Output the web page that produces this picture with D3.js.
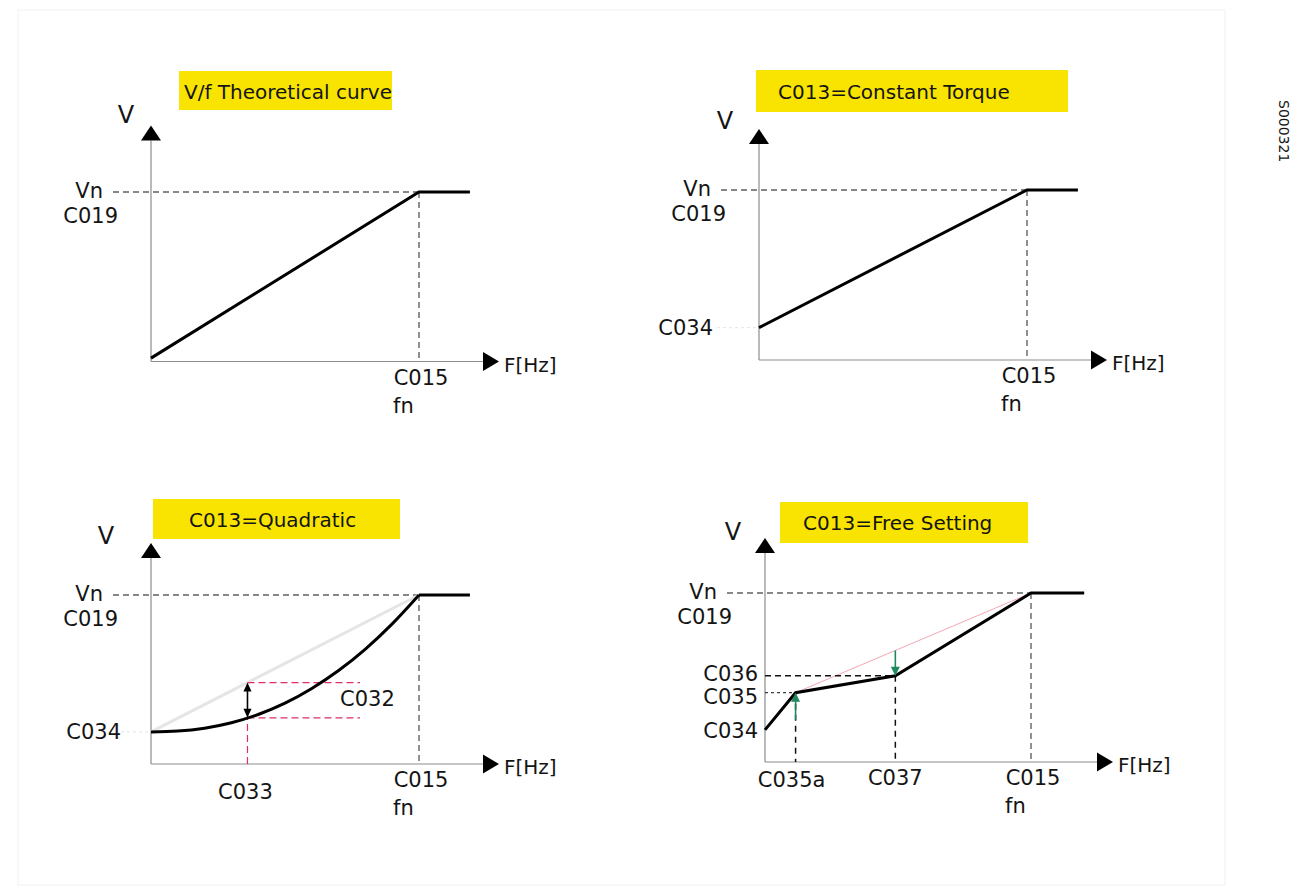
<!DOCTYPE html>
<html>
<head>
<meta charset="utf-8">
<script src="https://cdn.jsdelivr.net/npm/d3@7"></script>
<style>
  html, body { margin: 0; padding: 0; background: #ffffff; }
  svg { display: block; }
  text { font-family: "DejaVu Sans", sans-serif; fill: #141414; }
</style>
</head>
<body>
<svg id="chart" width="1305" height="890"></svg>
<script>
// ---------------- DATA (units: % of fn / % of Vn) ----------------
const titles = ["V/f Theoretical curve", "C013=Constant Torque", "C013=Quadratic", "C013=Free Setting"];

// Panel 1: theoretical V/f
const p1F = [0, 100, 119];
const p1V = [2, 100, 100];

// Panel 2: constant torque
const p2F = [0, 100, 119];
const p2V = [19, 100, 100];

// Panel 3: quadratic (curved part up to fn, then flat)
const p3F = [0, 10, 20, 30, 40, 50, 60, 70, 80, 90, 100];
const p3V = [19, 19.5, 21.2, 24.4, 29.3, 36, 44.7, 55.3, 68, 82.9, 100];
const p3FlatF = [100, 119];
const p3FlatV = [100, 100];
const p3RefF = [0, 100];
const p3RefV = [19, 100];
const p3C033 = 36;          // frequency of C033
const p3C032Top = 48.2;     // reference line value at C033
const p3C032Bottom = 27.3;  // curve value at C033
const p3C032End = 78;       // end of the red guide lines

// Panel 4: free setting
const p4F = [0, 11.5, 49, 100, 120];
const p4V = [19, 41, 51, 100, 100];
const p4RefF = [11.5, 100];
const p4RefV = [41, 100];
const p4UpArrow = { f: 11.5, from: 25, to: 41 };
const p4DownArrow = { f: 49, from: 66, to: 51 };

// Axis tick labels
const fnValue = 100, vnValue = 100;
const yLabelsTop = ["Vn", "C019"];
const xLabelsFn = ["C015", "fn"];
const p2YLabels = ["C034"];
const p3YLabels = ["C034"];
const p3XLabels = ["C033"];
const p3Diff = ["C032"];
const p4YLabels = ["C036", "C035", "C034"];
const p4YValues = [51, 41, 19];
const p4XLabels = ["C035a", "C037"];
const p4XValues = [11.5, 49];
const axisNames = ["V", "F[Hz]"];
const docCode = "S000321";

// ---------------- LAYOUT ----------------
const layout = [
  { x0: 151, xFn: 419, yAxis: 361.5, yVn: 192, yArrow: 221, box: [179, 71, 213, 39], tx: 184, ty: 92, vx: -25, vy: -11 },
  { x0: 759, xFn: 1027, yAxis: 360, yVn: 190, yArrow: 216, box: [756, 70, 312, 42], tx: 778, ty: 92, vx: -34, vy: -8 },
  { x0: 151, xFn: 419, yAxis: 764, yVn: 595, yArrow: 206, box: [153, 499, 247, 40], tx: 189, ty: 520, vx: -45, vy: -7 },
  { x0: 765, xFn: 1031, yAxis: 762, yVn: 593, yArrow: 209, box: [780, 502, 248, 41], tx: 803, ty: 523, vx: -32, vy: -6 }
];

const svg = d3.select("#chart");
const YELLOW = "#f8e400";
const AXIS = "#8c8c8c";
const RED = "#dc2f64";
const GREEN = "#1d8a5c";

// faint frame of the original sheet
svg.append("rect").attr("x", 18).attr("y", 10).attr("width", 1207).attr("height", 875)
  .attr("fill", "none").attr("stroke", "#f1f1f1").attr("stroke-width", 1);

const scales = layout.map(L => ({
  x: d3.scaleLinear().domain([0, 100]).range([L.x0, L.xFn]),
  y: d3.scaleLinear().domain([0, 100]).range([L.yAxis, L.yVn])
}));

function line(g, s, F, V, color, width, dash) {
  const gen = d3.line().x(d => s.x(d[0])).y(d => s.y(d[1]));
  const p = g.append("path").attr("d", gen(F.map((f, i) => [f, V[i]])))
    .attr("fill", "none").attr("stroke", color).attr("stroke-width", width)
    .attr("stroke-linejoin", "miter");
  if (dash) p.attr("stroke-dasharray", dash);
  return p;
}
function curve(g, s, F, V, color, width) {
  const gen = d3.line().x(d => s.x(d[0])).y(d => s.y(d[1])).curve(d3.curveMonotoneX);
  return g.append("path").attr("d", gen(F.map((f, i) => [f, V[i]])))
    .attr("fill", "none").attr("stroke", color).attr("stroke-width", width);
}
function seg(g, x1, y1, x2, y2, color, width, dash) {
  const p = g.append("line").attr("x1", x1).attr("y1", y1).attr("x2", x2).attr("y2", y2)
    .attr("stroke", color).attr("stroke-width", width);
  if (dash) p.attr("stroke-dasharray", dash);
  return p;
}
function label(g, txt, x, y, anchor, size) {
  return g.append("text").attr("x", x).attr("y", y).attr("text-anchor", anchor || "start")
    .attr("dominant-baseline", "central").attr("font-size", size || 21).text(txt);
}
function head(g, x, y, dir, color, w, l) {
  const s = dir === "up" ? 1 : -1;
  g.append("path").attr("d", `M${x},${y} L${x - w},${y + s * l} L${x + w},${y + s * l} Z`).attr("fill", color);
}

function drawFrame(i) {
  const L = layout[i], s = scales[i];
  const g = svg.append("g");
  // title
  g.append("rect").attr("x", L.box[0]).attr("y", L.box[1]).attr("width", L.box[2]).attr("height", L.box[3]).attr("fill", YELLOW);
  g.append("text").attr("x", L.tx).attr("y", L.ty).attr("dominant-baseline", "central").attr("font-size", 20).text(titles[i]);
  // axes
  const x0 = s.x(0), yA = s.y(0);
  const yTop = yA - L.yArrow, xEnd = x0 + 332;
  seg(g, x0, yA, x0, yTop, AXIS, 1.2);
  seg(g, x0, yA, xEnd, yA, AXIS, 1.2);
  g.append("path").attr("d", `M${x0},${yTop - 15} L${x0 - 10},${yTop} L${x0 + 10},${yTop} Z`).attr("fill", "#000");
  g.append("path").attr("d", `M${xEnd + 16},${yA} L${xEnd},${yA - 9.5} L${xEnd},${yA + 9.5} Z`).attr("fill", "#000");
  label(g, axisNames[0], x0 + L.vx, yTop - 15 + L.vy, "middle", 24);
  label(g, axisNames[1], xEnd + 21, yA + 3, "start", 20);
  // Vn guide and fn guide
  seg(g, x0 - 38, s.y(vnValue), s.x(fnValue), s.y(vnValue), "#111", 1.1, "6,4");
  seg(g, s.x(fnValue), s.y(vnValue), s.x(fnValue), yA, "#222", 1, "6,4");
  label(g, yLabelsTop[0], x0 - 48, s.y(vnValue) - 1, "end", 21);
  label(g, yLabelsTop[1], x0 - 33, s.y(vnValue) + 24, "end", 21);
  label(g, xLabelsFn[0], s.x(fnValue) + 2, yA + 16, "middle", 21);
  label(g, xLabelsFn[1], s.x(fnValue) - 26, yA + 44, "start", 21);
  return g;
}

// ---------------- Panel 1 ----------------
{
  const g = drawFrame(0), s = scales[0];
  line(g, s, p1F, p1V, "#000", 3);
}

// ---------------- Panel 2 ----------------
{
  const g = drawFrame(1), s = scales[1];
  seg(g, s.x(0) - 42, s.y(p2V[0]), s.x(0), s.y(p2V[0]), "#e4e4e4", 1, "3,3");
  label(g, p2YLabels[0], s.x(0) - 46, s.y(p2V[0]), "end", 21);
  line(g, s, p2F, p2V, "#000", 3);
}

// ---------------- Panel 3 ----------------
{
  const g = drawFrame(2), s = scales[2];
  line(g, s, p3RefF, p3RefV, "#e5e5e5", 3);
  seg(g, s.x(0) - 30, s.y(p3V[0]), s.x(0), s.y(p3V[0]), "#e4e4e4", 1, "3,3");
  label(g, p3YLabels[0], s.x(0) - 30, s.y(p3V[0]), "end", 21);
  // red guides
  const xc = s.x(p3C033);
  seg(g, xc, s.y(0), xc, s.y(p3C032Bottom), RED, 1.2, "7,4");
  seg(g, xc, s.y(p3C032Top), s.x(p3C032End), s.y(p3C032Top), RED, 1.2, "7,4");
  seg(g, xc, s.y(p3C032Bottom), s.x(p3C032End), s.y(p3C032Bottom), RED, 1.2, "7,4");
  curve(g, s, p3F, p3V, "#000", 3);
  line(g, s, p3FlatF, p3FlatV, "#000", 3);
  // double arrow
  const yt = s.y(p3C032Top), yb = s.y(p3C032Bottom);
  seg(g, xc, yt + 6, xc, yb - 6, "#000", 1.6);
  head(g, xc, yt, "up", "#000", 4, 9);
  head(g, xc, yb, "down", "#000", 4, 9);
  label(g, p3Diff[0], s.x(p3C032End) - 20, (yt + yb) / 2 - 1, "start", 21);
  label(g, p3XLabels[0], xc - 2, s.y(0) + 28, "middle", 21);
}

// ---------------- Panel 4 ----------------
{
  const g = drawFrame(3), s = scales[3];
  line(g, s, p4RefF, p4RefV, "#f2a7b2", 1);
  // guides
  seg(g, s.x(0), s.y(p4YValues[0]), s.x(p4XValues[1]), s.y(p4YValues[0]), "#111", 1.4, "6,4");
  seg(g, s.x(0), s.y(p4YValues[1]), s.x(p4XValues[0]), s.y(p4YValues[1]), "#111", 1, "3,3");
  seg(g, s.x(p4XValues[0]), s.y(p4YValues[1]), s.x(p4XValues[0]), s.y(0), "#111", 1.5, "6,5");
  seg(g, s.x(p4XValues[1]), s.y(p4YValues[0]), s.x(p4XValues[1]), s.y(0), "#111", 1.5, "6,5");
  line(g, s, p4F, p4V, "#000", 3);
  // green arrows
  const ux = s.x(p4UpArrow.f);
  seg(g, ux, s.y(p4UpArrow.from), ux, s.y(p4UpArrow.to) + 6, GREEN, 1.6);
  head(g, ux, s.y(p4UpArrow.to), "up", GREEN, 4.5, 9);
  const dx = s.x(p4DownArrow.f);
  seg(g, dx, s.y(p4DownArrow.from), dx, s.y(p4DownArrow.to) - 6, GREEN, 1.6);
  head(g, dx, s.y(p4DownArrow.to), "down", GREEN, 4.5, 9);
  // labels
  const yOff = [-2, 4, 1];
  p4YLabels.forEach((t, k) => label(g, t, s.x(0) - 7, s.y(p4YValues[k]) + yOff[k], "end", 21));
  label(g, p4XLabels[0], s.x(p4XValues[0]) - 4, s.y(0) + 18, "middle", 21);
  label(g, p4XLabels[1], s.x(p4XValues[1]), s.y(0) + 16, "middle", 21);
}

// document code
svg.append("text").attr("transform", "translate(1279,100) rotate(90)")
  .attr("font-family", "Liberation Sans, Arial, sans-serif").attr("font-size", 14)
  .attr("fill", "#222").text(docCode);
</script>
</body>
</html>
